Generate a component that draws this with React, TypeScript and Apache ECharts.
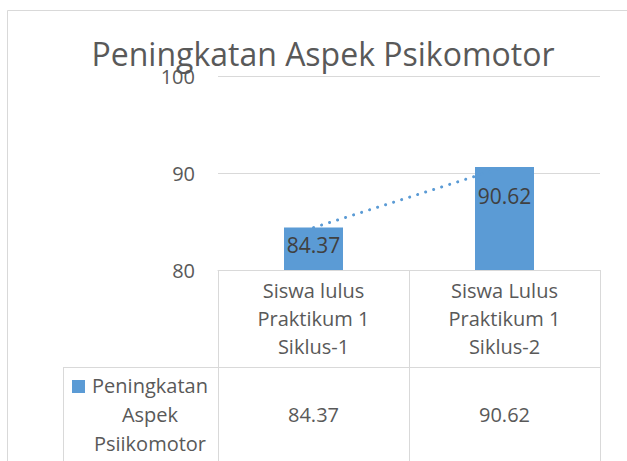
import React, { useEffect, useRef } from "react";
import * as echarts from "echarts";

const titleText = "Peningkatan Aspek Psikomotor";
const categories = ["Siswa lulus\nPraktikum 1\nSiklus-1", "Siswa Lulus\nPraktikum 1\nSiklus-2"];
const values = [84.37, 90.62];
const seriesNameLines = ["Peningkatan", "Aspek", "Psiikomotor"];
const yMin = 80;
const yMax = 100;
const yInterval = 10;

const FONT = "'Open Sans'";
const BLUE = "#5b9bd5";
const GRID_COLOR = "#d9d9d9";
const TEXT = "#595959";

const W = 627;
const H = 461;
const plotLeft = 218;
const plotRight = 600;
const plotTop = 76;
const plotBottom = 270;
const headerBottom = 367;
const tableLeft = 63;

export default function App() {
  const ref = useRef<HTMLDivElement>(null);
  useEffect(() => {
    if (!ref.current) return;
    const chart = echarts.init(ref.current, undefined, { renderer: "svg" });
    const catW = (plotRight - plotLeft) / categories.length;
    const graphics: any[] = [];
    graphics.push({
      type: "rect",
      shape: { x: 7.5, y: 10.5, width: 800, height: 600 },
      style: { fill: "none", stroke: GRID_COLOR, lineWidth: 1 },
      silent: true,
    });
    graphics.push({
      type: "line",
      shape: { x1: tableLeft, y1: headerBottom + 0.5, x2: plotRight, y2: headerBottom + 0.5 },
      style: { stroke: GRID_COLOR, lineWidth: 1 },
    });
    graphics.push({
      type: "line",
      shape: { x1: tableLeft + 0.5, y1: headerBottom, x2: tableLeft + 0.5, y2: H },
      style: { stroke: GRID_COLOR, lineWidth: 1 },
    });
    for (let i = 0; i <= categories.length; i++) {
      const x = Math.round(plotLeft + i * catW) + 0.5;
      graphics.push({
        type: "line",
        shape: { x1: x, y1: plotBottom, x2: x, y2: H },
        style: { stroke: GRID_COLOR, lineWidth: 1 },
      });
    }
    graphics.push({
      type: "rect",
      shape: { x: 72, y: 380, width: 13, height: 13 },
      style: { fill: BLUE },
    });
    seriesNameLines.forEach((t, i) => {
      graphics.push({
        type: "text",
        x: 150,
        y: 385 + i * 29,
        style: {
          text: t,
          fill: TEXT,
          font: `20px ${FONT}`,
          align: "center",
          verticalAlign: "middle",
        },
      });
    });
    values.forEach((v, i) => {
      graphics.push({
        type: "text",
        x: plotLeft + (i + 0.5) * catW,
        y: 414,
        style: {
          text: v.toFixed(2),
          fill: TEXT,
          font: `20px ${FONT}`,
          align: "center",
          verticalAlign: "middle",
        },
      });
    });

    chart.setOption({
      animation: false,
      title: {
        text: titleText,
        left: 318,
        textAlign: "center",
        top: 32,
        textStyle: { fontFamily: FONT, fontSize: 32, fontWeight: "normal", color: TEXT },
      },
      grid: {
        left: plotLeft,
        right: W - plotRight,
        top: plotTop,
        bottom: H - plotBottom,
        containLabel: false,
      },
      xAxis: {
        type: "category",
        data: categories,
        axisLine: { show: true, lineStyle: { color: GRID_COLOR, width: 1 } },
        axisTick: { show: false },
        axisLabel: {
          margin: 6,
          fontFamily: FONT,
          fontSize: 20,
          lineHeight: 28,
          color: TEXT,
          interval: 0,
        },
      },
      yAxis: {
        type: "value",
        min: yMin,
        max: yMax,
        interval: yInterval,
        axisLine: { show: false },
        axisTick: { show: false },
        splitLine: { lineStyle: { color: GRID_COLOR, width: 1 } },
        axisLabel: { margin: 23, fontFamily: FONT, fontSize: 20, color: TEXT },
      },
      series: [
        {
          type: "bar",
          data: values.map((v, i) => ({
            value: v,
            label: { distance: i === 0 ? 7 : 19 },
          })),
          barWidth: 59,
          itemStyle: { color: BLUE },
          label: {
            show: true,
            position: "insideTop",
            distance: 7,
            fontFamily: FONT,
            fontSize: 21,
            color: "#404040",
            formatter: (p: any) => Number(p.value).toFixed(2),
          },
        },
        {
          type: "line",
          data: values,
          symbol: "none",
          z: 5,
          lineStyle: { color: BLUE, width: 3, type: [0.1, 8.3], cap: "round" },
        },
      ],
      graphic: graphics,
    });
    return () => chart.dispose();
  }, []);
  return (
    <div
      ref={ref}
      style={{ position: "fixed", left: 0, top: 0, width: W, height: H, background: "#fff" }}
    />
  );
}
